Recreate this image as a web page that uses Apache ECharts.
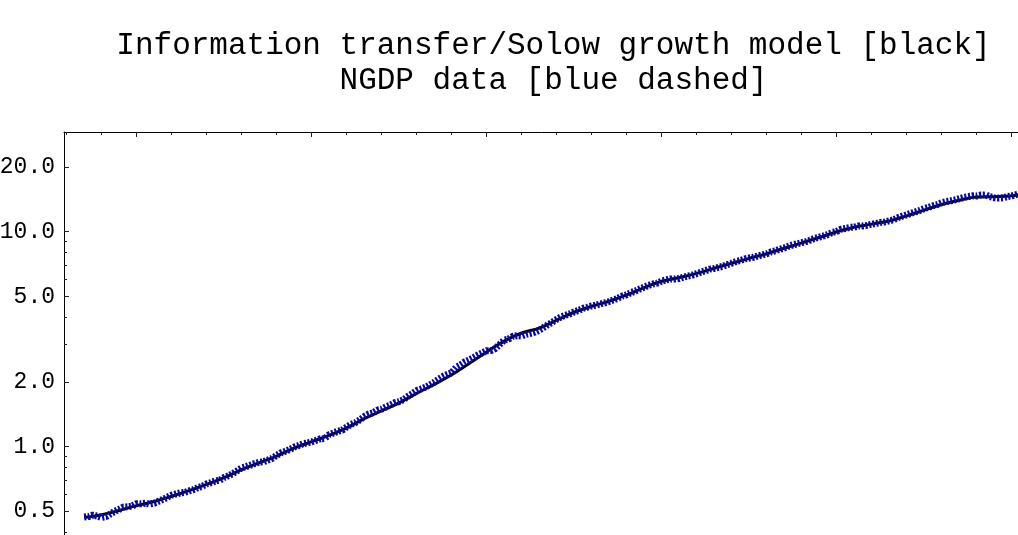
<!DOCTYPE html>
<html>
<head>
<meta charset="utf-8">
<script src="https://cdn.jsdelivr.net/npm/echarts@6/dist/echarts.min.js"></script>
<style>
html,body{margin:0;padding:0;background:#ffffff;}
#chart{width:1018px;height:535px;}
</style>
</head>
<body>
<div id="chart"></div>
<script>
// ---- text ----
const titleLines = [
  'Information transfer/Solow growth model [black]',
  'NGDP data [blue dashed]'
];

// ---- NGDP data (trillions of dollars), quarterly, starting 1957 Q1 ----
const ngdpStartYear = 1957;
const ngdpQuarterly = [
  0.4706, 0.4728, 0.4803, 0.4757,
  0.4684, 0.4728, 0.4867, 0.5004,
  0.5111, 0.5242, 0.5252, 0.5293,
  0.5433, 0.5427, 0.5460, 0.5411,
  0.5459, 0.5574, 0.5682, 0.5816,
  0.5952, 0.6026, 0.6096, 0.6131,
  0.6227, 0.6318, 0.6450, 0.6548,
  0.6711, 0.6808, 0.6928, 0.6984,
  0.7192, 0.7324, 0.7502, 0.7731,
  0.7973, 0.8072, 0.8208, 0.8349,
  0.8460, 0.8511, 0.8662, 0.8830,
  0.9111, 0.9363, 0.9523, 0.9701,
  0.9954, 1.0114, 1.0320, 1.0407,
  1.0535, 1.0701, 1.0885, 1.0915,
  1.1378, 1.1594, 1.1803, 1.1937,
  1.2338, 1.2701, 1.2938, 1.3320,
  1.3807, 1.4176, 1.4368, 1.4791,
  1.4947, 1.5342, 1.5634, 1.6030,
  1.6196, 1.6564, 1.7138, 1.7659,
  1.8245, 1.8569, 1.8905, 1.9384,
  1.9925, 2.0602, 2.1224, 2.1687,
  2.2087, 2.3366, 2.3989, 2.4822,
  2.5316, 2.5959, 2.6704, 2.7307,
  2.7965, 2.7999, 2.8600, 2.9935,
  3.1318, 3.1673, 3.2612, 3.2835,
  3.2738, 3.3313, 3.3671, 3.4078,
  3.4803, 3.5838, 3.6923, 3.7961,
  3.9128, 4.0150, 4.0874, 4.1476,
  4.2370, 4.3023, 4.3946, 4.4531,
  4.5163, 4.5552, 4.6196, 4.6694,
  4.7362, 4.8215, 4.9005, 5.0227,
  5.0906, 5.2077, 5.2995, 5.4127,
  5.5274, 5.6284, 5.7116, 5.7634,
  5.8908, 5.9747, 6.0295, 6.0233,
  6.0549, 6.1436, 6.2184, 6.2793,
  6.3808, 6.4923, 6.5865, 6.6976,
  6.7482, 6.8296, 6.9042, 7.0328,
  7.1363, 7.2698, 7.3523, 7.4767,
  7.5453, 7.6049, 7.7065, 7.7995,
  7.8931, 8.0615, 8.1590, 8.2871,
  8.4021, 8.5519, 8.6918, 8.7883,
  8.8897, 8.9947, 9.1465, 9.3257,
  9.4471, 9.5570, 9.7123, 9.9261,
  10.031, 10.278, 10.357, 10.472,
  10.508, 10.638, 10.640, 10.701,
  10.834, 10.935, 11.037, 11.104,
  11.230, 11.371, 11.625, 11.817,
  11.988, 12.181, 12.368, 12.562,
  12.814, 12.974, 13.205, 13.382,
  13.649, 13.800, 13.909, 14.066,
  14.233, 14.422, 14.570, 14.685,
  14.668, 14.813, 14.843, 14.550,
  14.384, 14.340, 14.384, 14.567,
  14.681, 14.889, 15.058, 15.230,
  15.238, 15.461, 15.587, 15.785
];

// ---- model (trillions), yearly ----
const modelYears = [
  1957, 1958, 1959, 1960, 1961, 1962, 1963, 1964, 1965, 1966,
  1967, 1968, 1969, 1970, 1971, 1972, 1973, 1974, 1975, 1976,
  1977, 1978, 1979, 1980, 1981, 1982, 1983, 1984, 1985, 1986,
  1987, 1988, 1989, 1990, 1991, 1992, 1993, 1994, 1995, 1996,
  1997, 1998, 1999, 2000, 2001, 2002, 2003, 2004, 2005, 2006,
  2007, 2008, 2009, 2010, 2011, 2012
];
const modelValues = [
  0.468, 0.482, 0.505, 0.532, 0.556, 0.588, 0.625, 0.668, 0.718, 0.782,
  0.842, 0.905, 0.985, 1.055, 1.128, 1.222, 1.350, 1.470, 1.600, 1.770,
  1.950, 2.160, 2.440, 2.760, 3.100, 3.380, 3.560, 3.880, 4.220, 4.500,
  4.750, 5.080, 5.500, 5.880, 6.120, 6.400, 6.760, 7.130, 7.520, 7.900,
  8.380, 8.870, 9.400, 10.000, 10.500, 10.850, 11.220, 11.850, 12.600, 13.380,
  14.000, 14.500, 14.550, 14.700, 15.150, 15.600
];

// ---- ticks ----
const yMajorTicks = [0.5, 1, 2, 5, 10, 20];
const yMinorTicks = [0.4, 0.6, 0.7, 0.8, 0.9, 3, 4, 6, 7, 8, 9];
const xMajorTicks = [1960, 1970, 1980, 1990, 2000, 2010];
const xMinorTicks = [1956, 1958, 1962, 1964, 1966, 1968, 1972, 1974, 1976, 1978,
  1982, 1984, 1986, 1988, 1992, 1994, 1996, 1998, 2002, 2004, 2006, 2008];

// ---- plot range ----
const X_MIN = 1955.85, X_MAX = 2011.73;
const Y_MIN = 0.2971, Y_MAX = 29.1;

const ngdpSeries = ngdpQuarterly.map((v, i) => [ngdpStartYear + i / 4, v]);
const modelSeries = modelYears.map((y, i) => [y, modelValues[i]]);

const MONO = "'Liberation Mono', 'DejaVu Sans Mono', monospace";
// plot frame: left edge at 64px, top at 132px; extends past the right and bottom of the picture
const gridBox = { left: 64, top: 132, width: 978, height: 428, containLabel: false, outerBoundsMode: 'none' };

const chart = echarts.init(document.getElementById('chart'), null, { renderer: 'canvas' });
chart.setOption({
  animation: false,
  backgroundColor: '#ffffff',
  title: {
    text: titleLines.join('\n'),
    left: 553.5,
    top: 28,
    textAlign: 'center',
    padding: 0,
    textStyle: {
      fontFamily: MONO,
      fontSize: 31,
      fontWeight: 'normal',
      color: '#000000',
      lineHeight: 35
    }
  },
  grid: [
    Object.assign({}, gridBox),
    Object.assign({}, gridBox)
  ],
  xAxis: [
    {
      gridIndex: 0, type: 'value', position: 'bottom', min: X_MIN, max: X_MAX,
      show: false
    },
    {
      gridIndex: 0, type: 'value', position: 'top', min: X_MIN, max: X_MAX,
      axisLine: { show: true, onZero: false, lineStyle: { color: '#000', width: 1 } },
      axisTick: { show: true, inside: true, length: 5, customValues: xMajorTicks,
        lineStyle: { color: '#222', width: 1 } },
      axisLabel: { show: false },
      splitLine: { show: false }
    },
    {
      gridIndex: 1, type: 'value', position: 'top', min: X_MIN, max: X_MAX,
      axisLine: { show: false, onZero: false },
      axisTick: { show: true, inside: true, length: 3, customValues: xMinorTicks,
        lineStyle: { color: '#222', width: 1 } },
      axisLabel: { show: false },
      splitLine: { show: false }
    }
  ],
  yAxis: [
    {
      gridIndex: 0, type: 'log', logBase: 10, position: 'left', min: Y_MIN, max: Y_MAX,
      axisLine: { show: true, onZero: false, lineStyle: { color: '#000', width: 1 } },
      axisTick: { show: true, inside: true, length: 5, customValues: yMajorTicks,
        lineStyle: { color: '#222', width: 1 } },
      axisLabel: {
        show: true, customValues: yMajorTicks, margin: 9,
        formatter: v => Number(v).toFixed(1),
        fontFamily: MONO, fontSize: 23, color: '#000'
      },
      splitLine: { show: false }
    },
    {
      gridIndex: 1, type: 'log', logBase: 10, position: 'left', min: Y_MIN, max: Y_MAX,
      axisLine: { show: false, onZero: false },
      axisTick: { show: true, inside: true, length: 3, customValues: yMinorTicks,
        lineStyle: { color: '#222', width: 1 } },
      axisLabel: { show: false },
      splitLine: { show: false }
    }
  ],
  series: [
    {
      name: 'Information transfer/Solow growth model',
      type: 'line',
      xAxisIndex: 0, yAxisIndex: 0,
      data: modelSeries,
      smooth: 0.4,
      showSymbol: false,
      lineStyle: { color: '#000000', width: 3 },
      z: 2
    },
    {
      name: 'NGDP data',
      type: 'line',
      xAxisIndex: 0, yAxisIndex: 0,
      data: ngdpSeries,
      showSymbol: false,
      lineStyle: { color: '#0808a8', width: 7, type: [2.1, 1.6], cap: 'butt' },
      z: 3
    }
  ]
});
</script>
</body>
</html>
